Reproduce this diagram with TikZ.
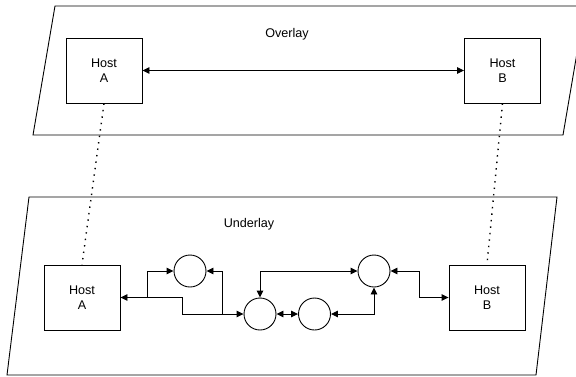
\documentclass[tikz,border=0pt]{standalone}
\usepackage{fontspec}
\setmainfont{Liberation Sans}
\usetikzlibrary{arrows.meta}
\tikzset{
  layer/.style={draw, line width=0.9pt},
  host/.style={draw, line width=0.9pt, minimum width=76pt, minimum height=65pt,
    align=center, font=\fontsize{12.6}{15}\selectfont},
  hub/.style={draw, circle, line width=0.9pt, minimum size=32pt, inner sep=0pt},
  link/.style={line width=0.9pt},
  tie/.style={line width=1.4pt, dash pattern=on 1.4pt off 5.1pt},
  lbl/.style={font=\fontsize{12.6}{15}\selectfont}
}
\begin{document}
\begin{tikzpicture}[x=1pt, y=-1pt, >={Triangle[length=7pt,width=6.5pt]}]
\useasboundingbox (0,0) rectangle (576,376);
\clip (0,0) rectangle (576,376);
% layers
\draw[layer] (55,6)--(585,6)--(563,135)--(33,135)--cycle;
\draw[layer] (29,197)--(557,197)--(536,375)--(7,375)--cycle;
\node[lbl] (over) at (287,34) {Overlay};
\node[lbl] (under) at (249,224) {Underlay};
% overlay hosts
\node[host] (oA) at (104,70.5) {Host\\A};
\node[host] (oB) at (502.5,70.5) {Host\\B};
\draw[link,<->] (oA) -- (oB);
% underlay hosts and hops
\node[host] (uA) at (82,297.5) {Host\\A};
\node[host] (uB) at (487,297.5) {Host\\B};
\node[hub] (c1) at (190,271) {};
\node[hub] (c2) at (260,314) {};
\node[hub] (c3) at (374,271) {};
\node[hub] (c4) at (314.5,314) {};
\coordinate (j1) at (147,297.5);
\coordinate (j2) at (182,297.5);
\coordinate (j3) at (222,314);
\coordinate (j4) at (419,271);
\draw[link,<->] (uA.east) -- (j1) |- (c1.west);
\draw[link,->] (j1) -- (j2) |- (c2.west);
\draw[link,->] (j3) |- (c1.east);
\draw[link,<->] (c2.north) |- (c3.west);
\draw[link,<->] (c2.east) -- (c4.west);
\draw[link,<->] (c4.east) -| (c3.south);
\draw[link,<->] (c3.east) -- (j4) |- (uB.west);
% ties between layers
\draw[tie] (oA.south) -- (uA.north);
\draw[tie] (oB.south) -- (uB.north);
\end{tikzpicture}
\end{document}
